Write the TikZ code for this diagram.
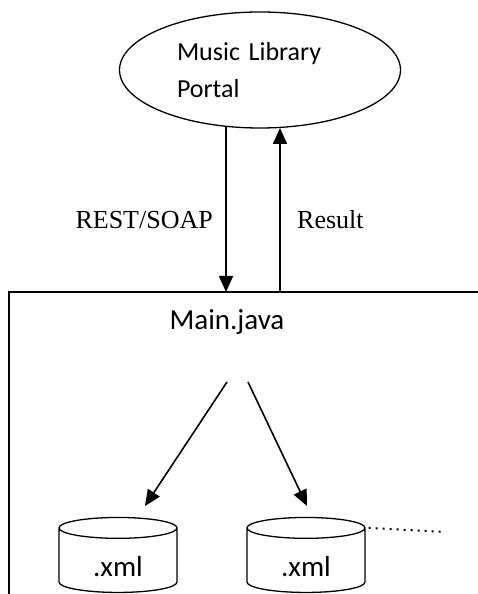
\documentclass[tikz,border=0pt]{standalone}
\usepackage{fontspec}
\setmainfont{Liberation Serif}
\newfontfamily\calibrifont{Carlito}
\usetikzlibrary{shapes.geometric,arrows.meta}
\tikzset{
  calibri/.style={font=\calibrifont\fontsize{#1}{37}\selectfont},
  calibri/.default=29,
  times/.style={font=\fontsize{26}{30}\selectfont,inner sep=0pt},
  flow/.style={line width=1.6pt,-{Triangle[length=16pt,width=14pt]}},
  store/.style={draw,line width=1.3pt,cylinder,shape border rotate=90,aspect=0.42,
    minimum width=118pt,minimum height=75pt,inner sep=0pt,calibri,
    text height=32pt,text depth=0pt},
}

\begin{document}
\begin{tikzpicture}[x=1pt,y=1pt]
\useasboundingbox (0,0) rectangle (478,594);
\clip (0,0) rectangle (478,594);
% portal
\node[draw,ellipse,line width=1.3pt,minimum width=281pt,minimum height=116pt,inner sep=0pt,
  calibri=26,text width=166pt,align=left] (portal) at (260,524) {Music Library\\Portal};
% application box
\coordinate (boxBL) at (9,-10); \coordinate (boxTL) at (9,302); \coordinate (boxTR) at (490,302);
\draw[line width=1.3pt] (boxBL) -- (boxTL) -- (boxTR);
\node[calibri] (main) at (227,272) {Main.java};
% request / result
\coordinate (reqA) at (226,467.5); \coordinate (reqB) at (226,302);
\coordinate (resA) at (280,302); \coordinate (resB) at (280,466);
\draw[flow] (reqA) -- (reqB);
\draw[flow] (resA) -- (resB);
\node[times,anchor=east] (rest) at (213,374) {REST/SOAP};
\node[times,anchor=west] (result) at (297,374) {Result};
% xml stores
\node[store] (xmlA) at (118,33.5) {.xml};
\node[store] (xmlB) at (306,33.5) {.xml};
\coordinate (fanL) at (227,212); \coordinate (fanR) at (248,212);
\coordinate (tipL) at (145,88); \coordinate (tipR) at (307,88);
\draw[flow] (fanL) -- (tipL);
\draw[flow] (fanR) -- (tipR);
\coordinate (more) at (445,62);
\draw[line width=2pt,dash pattern=on 2pt off 5pt] (xmlB.after top) ++(3,0) -- (more);
\end{tikzpicture}
\end{document}
